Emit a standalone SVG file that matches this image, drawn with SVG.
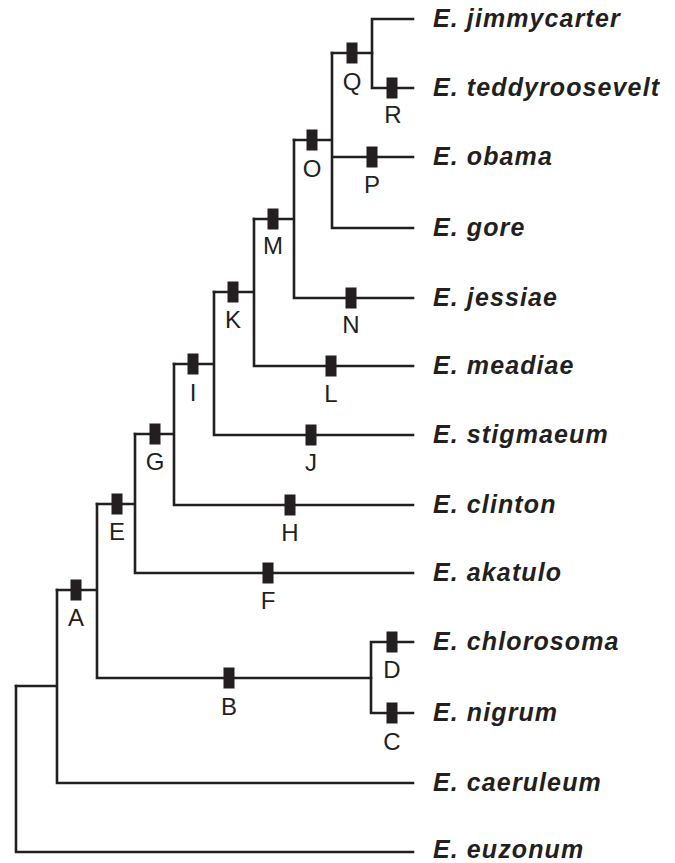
<svg xmlns="http://www.w3.org/2000/svg" width="675" height="863" viewBox="0 0 675 863">
<style>
.br{fill:none;stroke:#231f20;stroke-width:2.6;stroke-linecap:square;stroke-linejoin:miter}
.mk{fill:#231f20}
.lb{font-family:"Liberation Sans",Arial,sans-serif;font-size:24px;fill:#231f20;text-anchor:middle}
.tx{font-family:"Liberation Sans",Arial,sans-serif;font-size:25px;font-weight:bold;font-style:italic;fill:#231f20;letter-spacing:1.1px}
</style>
<defs>
<rect id="m" x="-5.5" y="-10.5" width="11" height="21" class="mk"/>
</defs>
<rect width="675" height="863" fill="#fff"/>
<g id="connectors">
<path class="br" d="M413,19 H372 V88 H413"/>
<path class="br" d="M332,53 H372"/>
<path class="br" d="M294,140 H332 V53 M332,157 H413 M332,140 V228 H413"/>
<path class="br" d="M254,219 H294 V140 M294,219 V298 H413"/>
<path class="br" d="M214,292 H254 V219 M254,292 V366 H413"/>
<path class="br" d="M174,364 H214 V292 M214,364 V435 H413"/>
<path class="br" d="M135,434 H174 V364 M174,434 V505 H413"/>
<path class="br" d="M97,504 H135 V434 M135,504 V573 H413"/>
<path class="br" d="M57,590 H97 V504 M97,590 V678 H371"/>
<path class="br" d="M413,642 H371 V713 H413"/>
<path class="br" d="M16,686 H57 V590 M57,686 V783 H413"/>
<path class="br" d="M16,686 V852 H413"/>
</g>
<g id="marks">
<use href="#m" x="352" y="53"/><use href="#m" x="392" y="88"/>
<use href="#m" x="312" y="140"/><use href="#m" x="372" y="157"/>
<use href="#m" x="273" y="219"/><use href="#m" x="351" y="298"/>
<use href="#m" x="233" y="292"/><use href="#m" x="331" y="366"/>
<use href="#m" x="193" y="364"/><use href="#m" x="311" y="435"/>
<use href="#m" x="155" y="434"/><use href="#m" x="290" y="505"/>
<use href="#m" x="117" y="504"/><use href="#m" x="268" y="573"/>
<use href="#m" x="76" y="590"/><use href="#m" x="229" y="678"/>
<use href="#m" x="392" y="642"/><use href="#m" x="392" y="713"/>
</g>
<g id="labels">
<text class="lb" x="352" y="90">Q</text>
<text class="lb" x="393" y="123">R</text>
<text class="lb" x="312" y="177">O</text>
<text class="lb" x="372" y="193">P</text>
<text class="lb" x="273" y="254">M</text>
<text class="lb" x="351" y="333">N</text>
<text class="lb" x="233" y="328">K</text>
<text class="lb" x="331" y="402">L</text>
<text class="lb" x="193" y="401">I</text>
<text class="lb" x="311" y="471">J</text>
<text class="lb" x="155" y="470">G</text>
<text class="lb" x="290" y="541">H</text>
<text class="lb" x="117" y="540">E</text>
<text class="lb" x="268" y="609">F</text>
<text class="lb" x="76" y="626">A</text>
<text class="lb" x="229" y="715">B</text>
<text class="lb" x="392" y="678">D</text>
<text class="lb" x="392" y="750">C</text>
</g>
<g id="taxa">
<text class="tx" x="433" y="27">E. jimmycarter</text>
<text class="tx" x="433" y="96">E. teddyroosevelt</text>
<text class="tx" x="433" y="165">E. obama</text>
<text class="tx" x="433" y="236">E. gore</text>
<text class="tx" x="433" y="306">E. jessiae</text>
<text class="tx" x="433" y="374">E. meadiae</text>
<text class="tx" x="433" y="443">E. stigmaeum</text>
<text class="tx" x="433" y="513">E. clinton</text>
<text class="tx" x="433" y="581">E. akatulo</text>
<text class="tx" x="433" y="650">E. chlorosoma</text>
<text class="tx" x="433" y="721">E. nigrum</text>
<text class="tx" x="433" y="791">E. caeruleum</text>
<text class="tx" x="433" y="858">E. euzonum</text>
</g>
</svg>
